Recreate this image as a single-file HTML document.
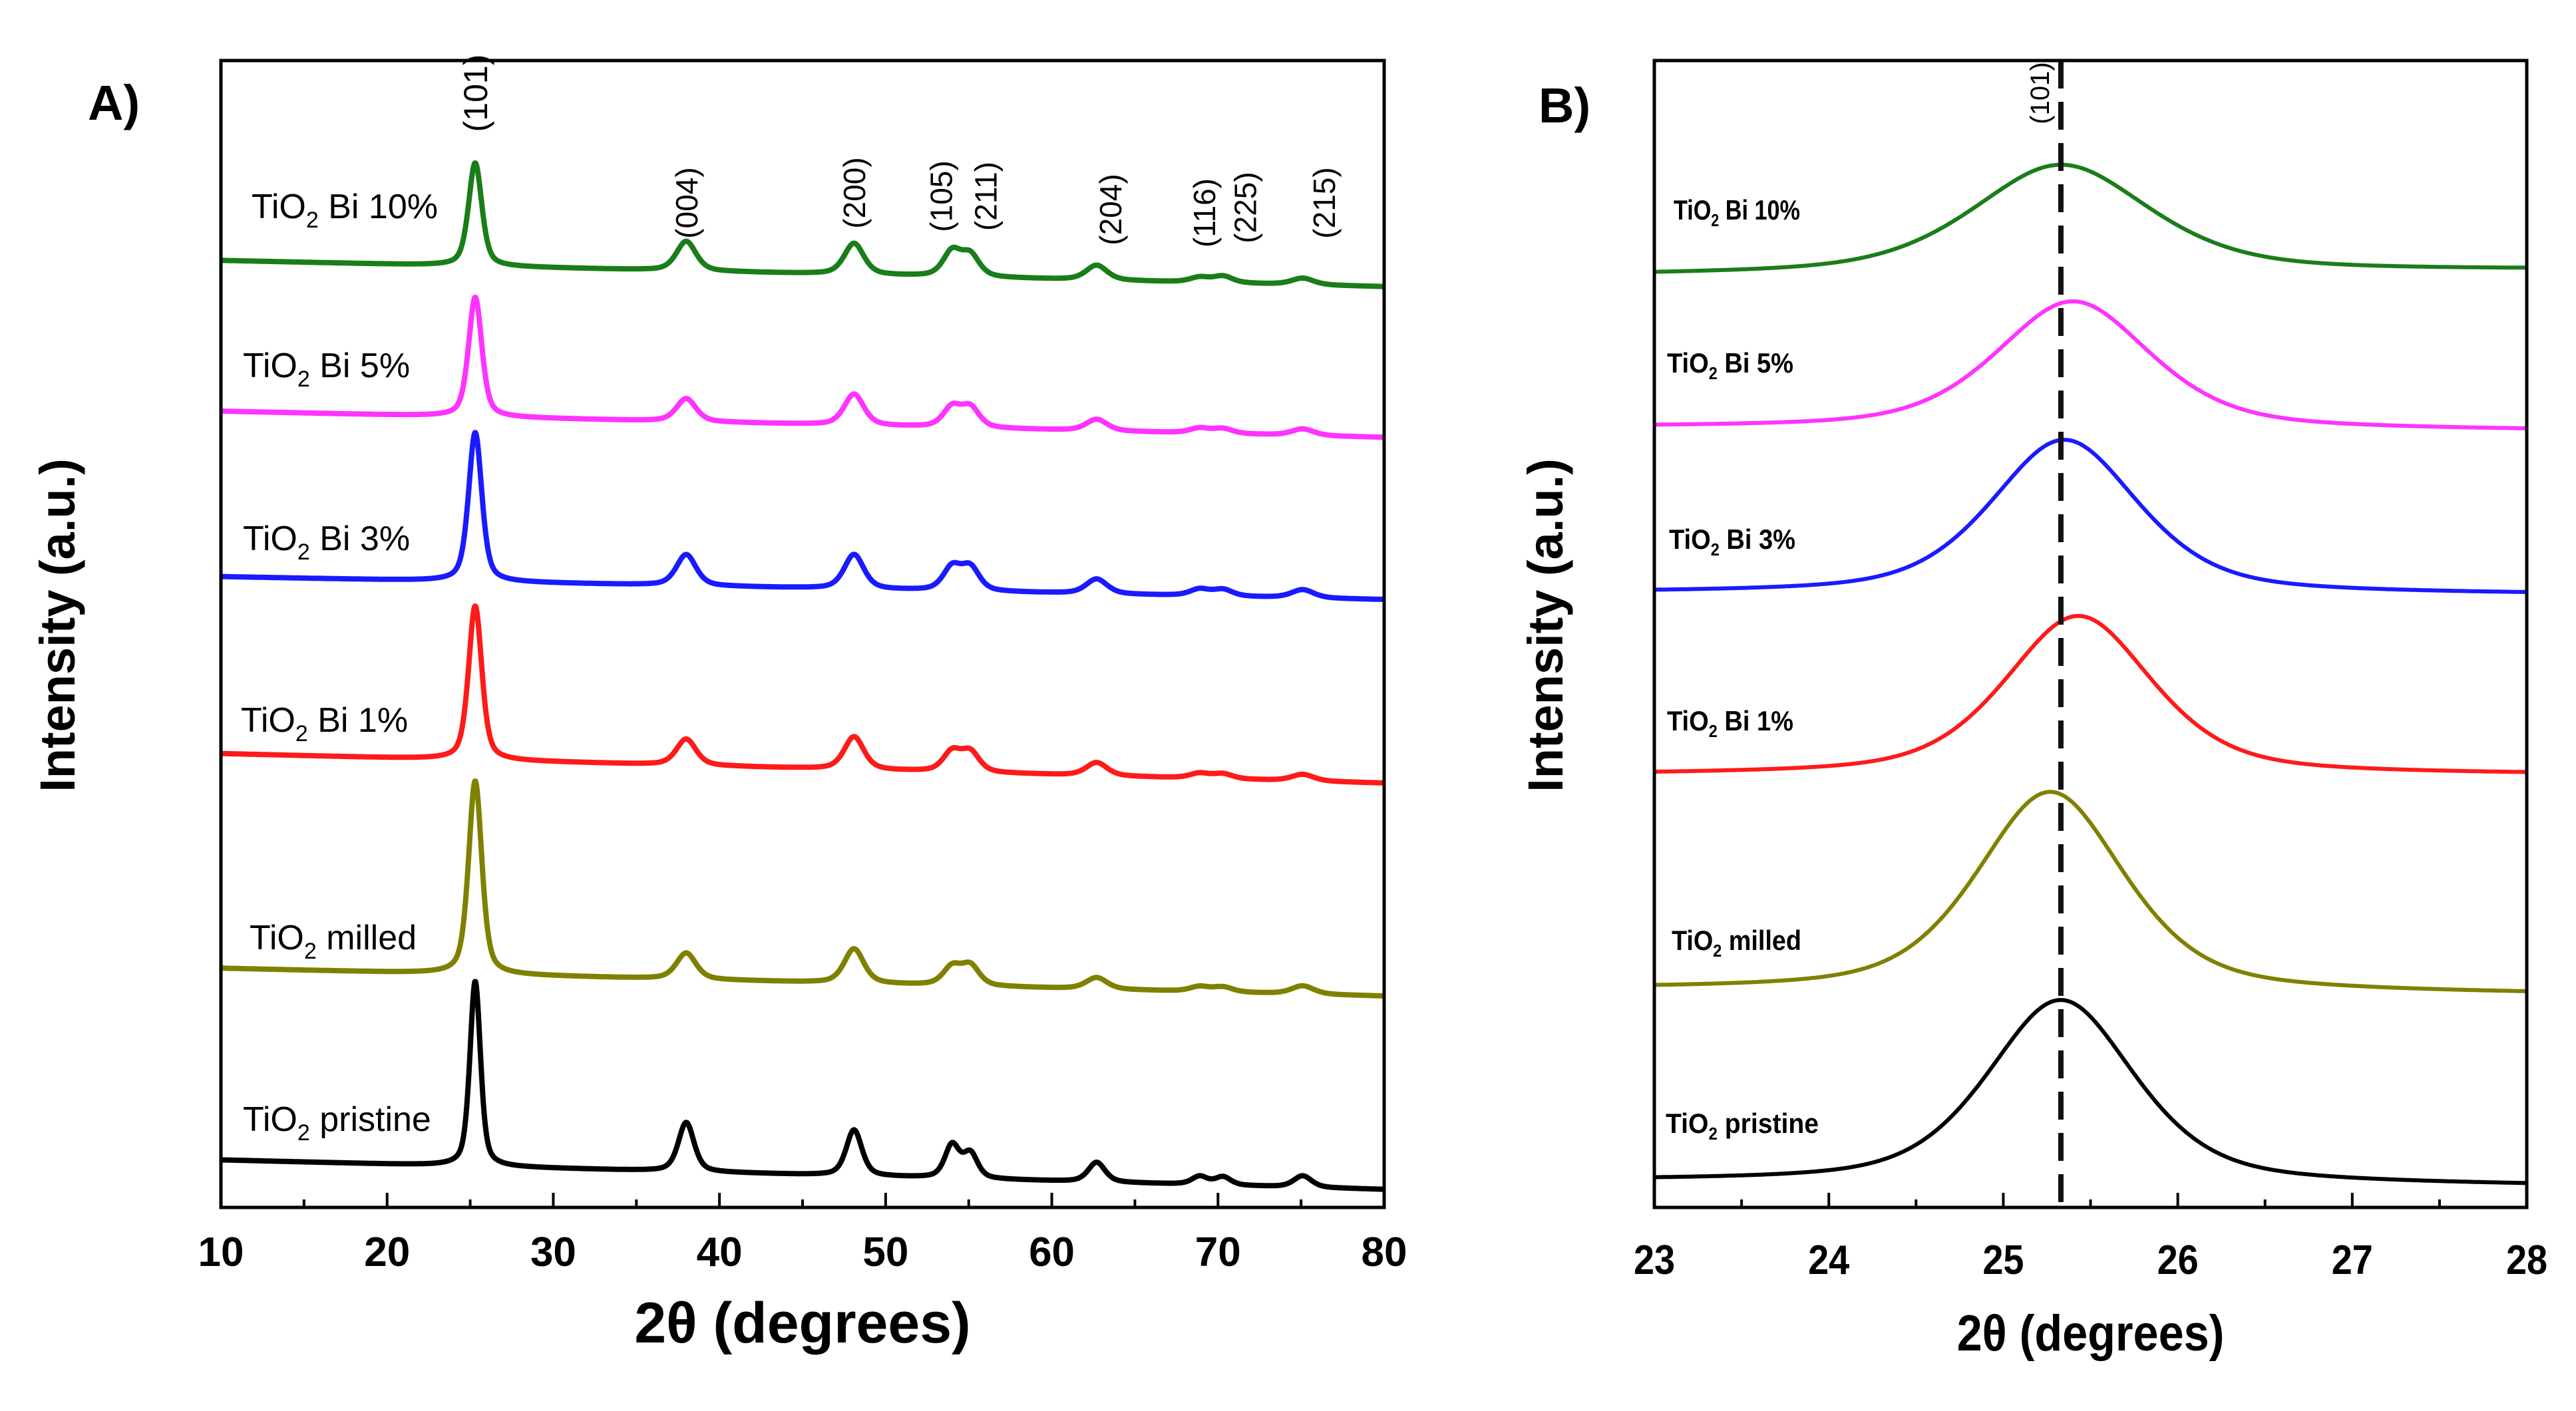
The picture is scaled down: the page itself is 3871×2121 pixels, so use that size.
<!DOCTYPE html>
<html><head><meta charset="utf-8"><style>
html,body{margin:0;padding:0;background:#fff;}
svg{display:block;font-family:"Liberation Sans",sans-serif;}
</style></head><body>
<svg id="chart" width="3871" height="2121" viewBox="0 0 3871 2121" xmlns="http://www.w3.org/2000/svg"></svg>
<script>
// ---------- Panel A data ----------
const seriesNamesA = ["TiO2 pristine","TiO2 milled","TiO2 Bi 1%","TiO2 Bi 3%","TiO2 Bi 5%","TiO2 Bi 10%"];
const seriesColors = ["#000000","#808000","#ff1a1a","#1a1aff","#ff33ff","#1a7d1a"];
const peakPosA = [25.3, 38.0, 48.1, 54.0, 55.1, 62.7, 68.9, 70.3, 75.1];
const bgLeftA = [29, 146, 277, 385, 486, 578];
const bgRightA = [11, 129, 259, 371, 470, 562];
const heightsPristine = [113, 30, 28, 20, 15, 12, 5, 5, 7];
const heightsMilled = [118, 16, 21, 11, 12, 7, 3, 3, 5];
const heightsBi1 = [94, 16, 20, 12, 12, 8, 3, 3, 4];
const heightsBi3 = [91, 19, 21, 14, 14, 9, 4, 4, 5];
const heightsBi5 = [73, 14, 19, 12, 12, 7, 3, 3, 4];
const heightsBi10 = [63, 18, 19, 15, 13, 9, 3, 4, 4];
const widthsA = [0.95, 1.4, 1.4, 1.3, 1.3, 1.5, 1.4, 1.4, 1.6];
const hklLabels = ["(101)","(004)","(200)","(105)","(211)","(204)","(116)","(225)","(215)"];
const xTicksA = [10,20,30,40,50,60,70,80];
// ---------- Panel B data ----------
const bgLeftB = [16, 133, 264, 375, 476, 569];
const bgRightB = [13, 130, 264, 374, 474, 572];
const peakCenterB = [25.33, 25.27, 25.43, 25.35, 25.40, 25.33];
const peakHeightB = [112, 122, 97, 94, 78, 66];
const peakFwhmB = [1.0, 1.0, 1.0, 1.0, 1.05, 1.2];
const xTicksB = [23,24,25,26,27,28];
const refLineB = 25.33;

const NS="http://www.w3.org/2000/svg";
const svg=document.getElementById('chart');
function el(tag,attrs,parent){const e=document.createElementNS(NS,tag);for(const k in attrs)e.setAttribute(k,attrs[k]);(parent||svg).appendChild(e);return e;}
const boxTop=91, boxBot=1815;
const ys=v=>boxBot-v*(boxBot-boxTop)/700;
const heightsA=[heightsPristine,heightsMilled,heightsBi1,heightsBi3,heightsBi5,heightsBi10];
function pv(x,c,w){const d=(x-c)/(w/2);return 0.5/(1+d*d)+0.5*Math.exp(-Math.LN2*d*d);}

function panel(opts){
  const g=el('g',{});
  
  
  const xs=v=>opts.x0+(v-opts.min)/(opts.max-opts.min)*(opts.x1-opts.x0);
  return {g,xs};
}
// ---------- Panel A ----------
(function(){
  const x0=332,x1=2080,min=10,max=80;
  const {g,xs}=panel({name:'panel-a',x0,x1,min,max});
  for(let s=0;s<6;s++){
    let d='';
    for(let x=min;x<=max+1e-9;x+=0.04){
      let y=bgLeftA[s]+(bgRightA[s]-bgLeftA[s])*(x-min)/(max-min);
      for(let p=0;p<peakPosA.length;p++){let w=widthsA[p]*(s==0?0.8:1);y+=heightsA[s][p]*pv(x,peakPosA[p],w);}
      d+=(d?'L':'M')+xs(x).toFixed(1)+','+ys(y).toFixed(1);
    }
    const path=el('path',{d,fill:'none',stroke:seriesColors[s],'stroke-width':8,'stroke-linejoin':'round'},g);
    
    
  }
  el('rect',{x:x0,y:boxTop,width:x1-x0,height:boxBot-boxTop,fill:'none',stroke:'#000','stroke-width':5},g);
  for(let v=min;v<=max;v+=5){const major=v%10==0;el('line',{x1:xs(v),x2:xs(v),y1:boxBot,y2:boxBot-(major?22:12),stroke:'#000','stroke-width':4},g);}
  xTicksA.forEach(v=>{const t=el('text',{x:xs(v),y:1903,'text-anchor':'middle','font-size':62,'font-weight':'bold'},g);t.textContent=v;});
  const labY=[1700,1427,1100,827,567,328];
  const labX=[365,375,362,365,365,378];
  for(let s=0;s<6;s++){
    const t=el('text',{x:labX[s],y:labY[s],'font-size':52},g);
    
    const parts=seriesNamesA[s].split('O2');
    t.innerHTML='TiO<tspan font-size="34" dy="14">2</tspan><tspan dy="-14">'+parts[1]+'</tspan>';
  }
  const hklY=[140,305,290,295,295,315,320,312,305];
  const hklX=[290,418,520,573,600,676,733,758,806].map(v=>v*2.469);
  for(let i=0;i<hklLabels.length;i++){
    const fs=i==0?50:46;
    const t=el('text',{x:hklX[i]+16,y:hklY[i],'font-size':fs,'text-anchor':'middle',transform:`rotate(-90 ${hklX[i]+16} ${hklY[i]})`},g);
    t.textContent=hklLabels[i];
  }
  const xt=el('text',{x:(x0+x1)/2,y:2018,'text-anchor':'middle','font-size':86,'font-weight':'bold'},g);
  xt.textContent='2θ (degrees)';
  const yt=el('text',{x:112,y:940,'text-anchor':'middle','font-size':74,'font-weight':'bold',transform:'rotate(-90 112 940)'},g);
  yt.textContent='Intensity (a.u.)';
  const pl=el('text',{x:132,y:180,'font-size':74,'font-weight':'bold'},g);
  pl.textContent='A)';
})();
// ---------- Panel B ----------
(function(){
  const x0=2486,x1=3797,min=23,max=28;
  const {g,xs}=panel({name:'panel-b',x0,x1,min,max});
  for(let s=0;s<6;s++){
    let d='';
    for(let x=min;x<=max+1e-9;x+=0.005){
      let y=bgLeftB[s]+(bgRightB[s]-bgLeftB[s])*(x-min)/(max-min)+peakHeightB[s]*pv(x,peakCenterB[s],peakFwhmB[s]);
      d+=(d?'L':'M')+xs(x).toFixed(1)+','+ys(y).toFixed(1);
    }
    const path=el('path',{d,fill:'none',stroke:seriesColors[s],'stroke-width':6,'stroke-linejoin':'round'},g);
    
    
  }
  const rl=el('line',{x1:xs(refLineB),x2:xs(refLineB),y1:boxTop,y2:boxBot,stroke:'#111','stroke-width':8,'stroke-dasharray':'42 20'},g);
  
  el('rect',{x:x0,y:boxTop,width:x1-x0,height:boxBot-boxTop,fill:'none',stroke:'#000','stroke-width':5},g);
  for(let v=min;v<=max+1e-9;v+=0.5){const major=Math.abs(v-Math.round(v))<1e-6;el('line',{x1:xs(v),x2:xs(v),y1:boxBot,y2:boxBot-(major?22:12),stroke:'#000','stroke-width':4},g);}
  xTicksB.forEach(v=>{const t=el('text',{x:xs(v),y:1915,'text-anchor':'middle','font-size':62,'font-weight':'bold',transform:`translate(${xs(v)} 0) scale(0.9 1) translate(${-xs(v)} 0)`},g);t.textContent=v;});
  const labY=[1703,1428,1098,825,560,330];
  const labX=[2503,2512,2505,2508,2505,2515];
  for(let s=0;s<6;s++){
    const t=el('text',{x:labX[s],y:labY[s],'font-size':42,'font-weight':'bold',textLength:s==0?230:(s==1?195:190),lengthAdjust:'spacingAndGlyphs'},g);
    
    const parts=seriesNamesA[s].split('O2');
    t.innerHTML='TiO<tspan font-size="26" dy="10">2</tspan><tspan dy="-10">'+parts[1]+'</tspan>';
  }
  const hx=xs(refLineB)-18;
  const h=el('text',{x:hx,y:140,'font-size':40,'text-anchor':'middle',transform:`rotate(-90 ${hx} 140)`},g);
  h.textContent='(101)';
  const xt=el('text',{x:(x0+x1)/2,y:2030,'text-anchor':'middle','font-size':76,'font-weight':'bold',transform:`translate(${(x0+x1)/2} 0) scale(0.9 1) translate(${-(x0+x1)/2} 0)`},g);
  xt.textContent='2θ (degrees)';
  const yt=el('text',{x:2348,y:940,'text-anchor':'middle','font-size':74,'font-weight':'bold',transform:'rotate(-90 2348 940)'},g);
  yt.textContent='Intensity (a.u.)';
  const pl=el('text',{x:2312,y:184,'font-size':74,'font-weight':'bold'},g);
  pl.textContent='B)';
})();
</script>
</body></html>
